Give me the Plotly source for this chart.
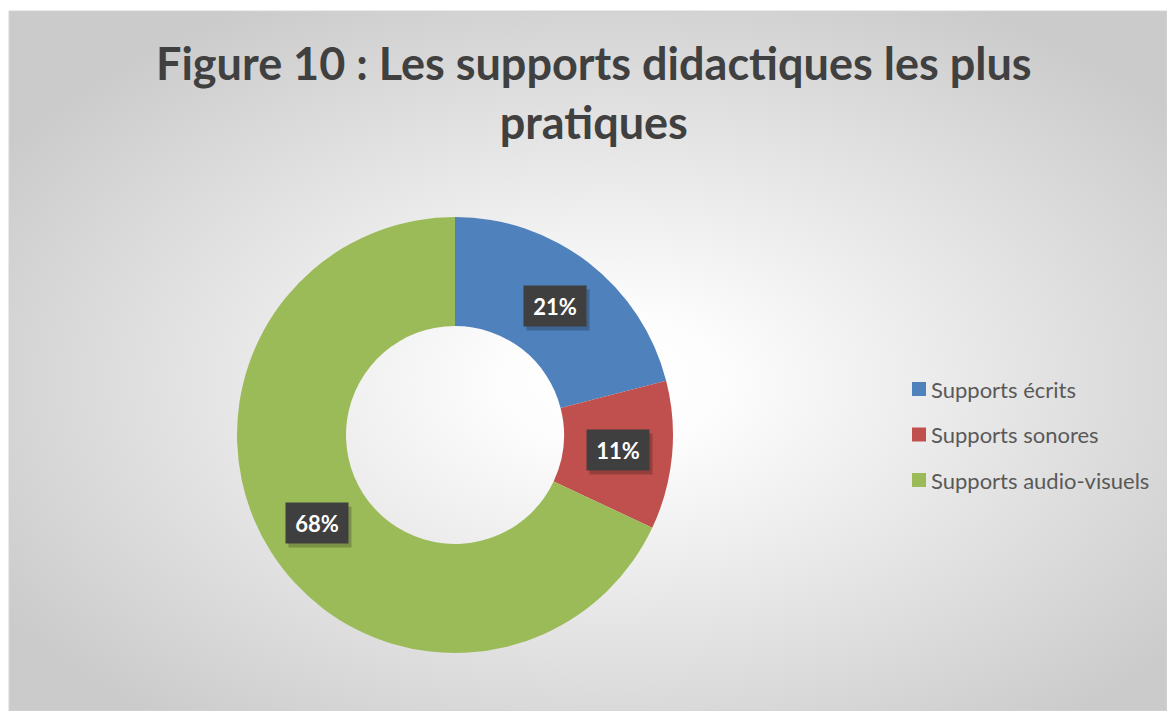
import base64
import math
import plotly.graph_objects as go

# ---- data ----
categories = ["Supports écrits", "Supports sonores", "Supports audio-visuels"]
values = [21, 11, 68]
label_texts = ["21%", "11%", "68%"]
colors = ["#4F81BD", "#C0504D", "#9BBB59"]
title_text = "Figure 10 : Les supports didactiques les plus<br>pratiques"

W, H = 1167, 711
FONT = "Lato"

# chart area box (pixels)
AX0, AX1, AY0, AY1 = 9, 1167, 11, 711
bw, bh = AX1 - AX0, AY1 - AY0

svg = f'''<svg xmlns="http://www.w3.org/2000/svg" width="{bw}" height="{bh}" viewBox="0 0 {bw} {bh}" preserveAspectRatio="none">
<defs><radialGradient id="g" cx="52%" cy="53%" r="62%">
<stop offset="0" stop-color="#ffffff"/>
<stop offset="0.15" stop-color="#fdfdfd"/>
<stop offset="1" stop-color="#cbcbcb"/>
</radialGradient></defs>
<rect x="0" y="0" width="{bw}" height="{bh}" fill="url(#g)"/>
</svg>'''
bg_src = "data:image/svg+xml;base64," + base64.b64encode(svg.encode()).decode()

# pie geometry (pixels)
cx_px, cy_px, R = 455, 435, 218
dom_x = [(cx_px - R) / W, (cx_px + R) / W]
dom_y = [1 - (cy_px + R) / H, 1 - (cy_px - R) / H]

fig = go.Figure(go.Pie(
    labels=categories, values=values, hole=0.5, sort=False,
    direction="clockwise", rotation=0,
    marker=dict(colors=colors, line=dict(width=0)),
    textinfo="none", hoverinfo="label+percent", showlegend=False,
    domain=dict(x=dom_x, y=dom_y),
))

# data labels at slice mid-angles
total = sum(values)
cum = 0
rmid = R * 0.75
annotations = []
for v, t in zip(values, label_texts):
    mid = (cum + v / 2) / total * 2 * math.pi
    cum += v
    ax = (cx_px + rmid * math.sin(mid)) / W
    ay = 1 - (cy_px - rmid * math.cos(mid)) / H
    # box shadow (no text)
    annotations.append(dict(x=ax, y=ay, xref="paper", yref="paper", text=" ",
                            showarrow=False, xshift=3, yshift=-4,
                            xanchor="center", yanchor="middle",
                            width=46, height=24, bgcolor="rgba(0,0,0,0.22)", borderpad=8,
                            font=dict(family=FONT, size=22, color="rgba(0,0,0,0)")))
    annotations.append(dict(x=ax, y=ay, xref="paper", yref="paper", text=f"<b>{t}</b>",
                            showarrow=False, xanchor="center", yanchor="middle",
                            width=46, height=24, bgcolor="#3f3f3f", borderpad=8,
                            font=dict(family=FONT, size=22, color="white")))

# title
annotations.append(dict(x=594 / W, y=1 - 93 / H, xref="paper", yref="paper",
                        text=f"<b>{title_text}</b>", showarrow=False,
                        xanchor="center", yanchor="middle",
                        font=dict(family=FONT, size=45, color="#404040")))

# legend (custom)
shapes = [dict(type="rect", xref="paper", yref="paper", x0=AX0 / W, x1=AX1 / W,
               y0=1 - AY1 / H, y1=1 - AY0 / H, line=dict(color="#d4d4d4", width=1),
               fillcolor="rgba(0,0,0,0)", layer="below")]
leg_y0, leg_gap = 389, 45.5
for i, (c, col) in enumerate(zip(categories, colors)):
    yc = leg_y0 + i * leg_gap
    shapes.append(dict(type="rect", xref="paper", yref="paper",
                       x0=912 / W, x1=926 / W, y0=1 - (yc + 7) / H, y1=1 - (yc - 7) / H,
                       fillcolor=col, line=dict(width=0)))
    annotations.append(dict(x=929 / W, y=1 - yc / H, xref="paper", yref="paper", text=c,
                            showarrow=False, xanchor="left", yanchor="middle",
                            font=dict(family=FONT, size=22, color="#595959")))

fig.update_layout(
    width=W, height=H,
    margin=dict(l=0, r=0, t=0, b=0),
    paper_bgcolor="white", plot_bgcolor="white",
    images=[dict(source=bg_src, xref="paper", yref="paper", x=AX0 / W, y=1 - AY0 / H,
                 sizex=bw / W, sizey=bh / H, sizing="stretch", layer="below",
                 xanchor="left", yanchor="top")],
    shapes=shapes,
    annotations=annotations,
)

fig.write_html("out.html", config={"displayModeBar": False},
               post_script="document.body.style.margin='0';document.body.style.overflow='hidden';")
